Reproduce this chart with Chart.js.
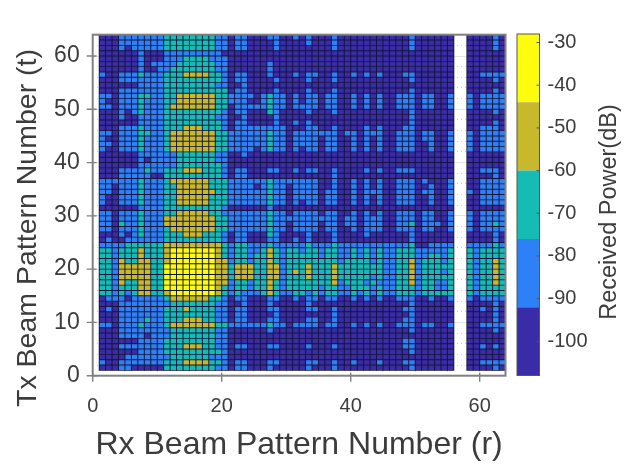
<!DOCTYPE html>
<html>
<head>
<meta charset="utf-8">
<title>Received power per beam pair</title>
<script src="https://cdn.jsdelivr.net/npm/chart.js@4/dist/chart.umd.min.js"></script>
<style>
  body { margin: 0; background: #fff; }
  canvas { position: absolute; left: 0; top: 0; }
</style>
</head>
<body>
<canvas id="heat" width="638" height="466"></canvas>
<canvas id="bar" width="638" height="466"></canvas>
<script>
// colour bands, weakest to strongest, in dB
const bandEdges = [-108, -92, -76, -60, -44, -28];
const bandColors = ['#3a2ba6', '#2e80f6', '#14bcb4', '#c8b92c', '#fcfc0c'];
const barTicks = [-100, -90, -80, -70, -60, -50, -40, -30];
const xTicks = [0, 20, 40, 60];
const yTicks = [0, 10, 20, 30, 40, 50, 60];
const xGridLines = [0, 5, 10, 15, 20, 25, 30, 35, 40, 45, 50, 55, 60];
const yGridLines = [0, 2, 4, 6, 8, 10, 12, 14, 16, 18, 20, 22, 24, 26, 28, 30, 32,
  34, 36, 38, 40, 42, 44, 46, 48, 50, 52, 54, 56, 58, 60, 62];

// band index per cell (1 = weakest, 0 = no data)
// first row is t=63, last is t=1; every row runs r=1..63
const powerRows = [
  '1112222222 3333333322 1221112211 2121112111 1111111121 1111100111 121',
  '1112222222 3333333322 1221111211 1121112111 1111111121 1111100111 121',
  '1112122222 3333333322 1221111211 1111112111 1111111121 1111100111 121',
  '1111112111 2222222221 1111111111 1111111111 1111111111 1111100111 111',
  '1111112111 2223333222 1111111111 1111111111 1111111111 1111100111 111',
  '1111112122 2233333322 1111112111 1111111111 1111111111 1111100111 111',
  '1111112112 2333333322 1111112111 1111111111 1111111111 1111100111 111',
  '2112223222 3334444332 1221112111 2122112112 1212111221 1111100112 222',
  '1112222222 3333333332 1221111211 1121112111 1111111121 1111100111 121',
  '1111112222 3333333322 1121111111 1111111111 1111111111 1111100111 111',
  '1112222222 3333333333 1221111211 1121112111 1111111121 1111100111 121',
  '2212223322 3344444433 2222123221 2122122112 1212112221 2211200212 222',
  '2112223222 3344444433 2221123221 2122122112 1212112221 2211200212 222',
  '2212223222 3444444433 1222223221 2222122112 1212112221 2211200212 222',
  '1112123222 3333333332 1221113211 1121112111 1111111121 1111100111 121',
  '1112112222 3333333322 1121111211 1111111111 1111111121 1111100111 111',
  '1111112222 3333333332 1221111211 2121111111 1111111121 1111100111 121',
  '1112223222 3334443332 1222222221 1122112111 1212111221 1111100112 221',
  '2212223322 3444444433 2222223221 2222222122 1222112221 2211200212 222',
  '2112223222 3444444433 2222223221 2222122112 1212112221 2211200212 222',
  '2212223222 3444444433 2222223221 2222122112 1212112221 1211200212 222',
  '2112223222 3444444433 2222123221 2122122112 1212112221 1211200212 222',
  '1111112222 2233333322 1121111111 1111111111 1111111111 1111100111 111',
  '1111112122 2233333322 1111111111 1111111111 1111111111 1111100111 111',
  '1111112222 2233333332 1111111111 1111111111 1111111111 1111100111 111',
  '1112222322 3334443332 1221112211 2122112111 1212112221 1111100112 221',
  '1112222211 3333333332 1221111111 1111112111 1111111111 1111100111 121',
  '2222223222 3444444333 2222223222 2222112112 1212112221 2111200112 222',
  '2212223222 3344444333 2222123221 2222112112 1212112221 1211200112 222',
  '2212223222 3344444433 2222223221 2222122112 1222112221 2211200212 222',
  '2112223222 3344444333 2222223221 2222122112 1212112221 1211200112 222',
  '2112223222 3344444333 2222223221 2122122112 1212112221 1211200112 222',
  '1111112222 3333333332 1111112111 1111111111 1111111111 1111100111 111',
  '2212223222 3344444332 2222223221 2222122112 1212112221 2211200212 222',
  '2212223222 4444444433 2222223222 2222222122 1222112221 2211200212 222',
  '2213223222 4444444433 2222223221 2222122122 1222112231 2221200212 232',
  '2212223222 3444444433 2222223221 2222122112 1222112221 2211200212 222',
  '1112123222 3334443332 1221113211 1121112111 1211111121 1111100111 121',
  '1211222222 3333333332 1221112211 2121112111 1111111121 1111100111 121',
  '2222333333 4444444443 2332223222 2232223222 2222222231 1222200222 232',
  '3323334333 4555555543 2332234323 3233233223 2323223332 2222300323 333',
  '3323334333 4555555543 2332334323 3333233223 2323223332 2332300323 333',
  '3324334433 4555555544 2332334323 3333333233 3323223342 3332300323 343',
  '3324444433 5555555544 3444334423 3343334333 3333223342 3333300323 343',
  '3324444433 5555555544 3444334423 4343334333 3333223342 3332300323 343',
  '3324444433 5555555544 3444334423 3343334333 3323223342 3333300323 343',
  '3324334433 5555555544 2332334323 3333334233 3232223342 3322300323 343',
  '3323334433 5555555543 2332334323 3333233223 3323223332 3322300323 333',
  '3323234433 4555555543 2322234322 3323233223 2323223332 3333300323 333',
  '1222122222 3444444332 1221112211 2122122112 1212112221 1211200212 222',
  '1112222222 2333333322 1121112111 1121111111 1111111121 1111100111 121',
  '1212222222 3334333322 1221112211 1122112111 1111111221 1111100112 121',
  '1112222222 3333333322 1221111211 1111112111 1111111121 1111100111 121',
  '1112222322 3334443322 1221112211 1122112111 1111111221 1111100111 121',
  '2212223222 3444444433 2222223221 2222122112 1212112221 2211200112 222',
  '1112222222 2333333322 1111112111 1111111111 1111111121 1111100111 121',
  '1112222122 2333333322 1111111111 1111111111 1111111111 1111100111 111',
  '1111112222 3333333322 1111111111 1111111111 1111111221 1111100111 111',
  '1112222222 3334443322 1221112211 1121112111 1111111221 1111100112 121',
  '1111112222 3333333332 1111111111 1111111111 1111111121 1111100111 111',
  '1111222222 2333333222 1111111111 1111111111 1111111111 1111100111 111',
  '2112222222 3334444332 1221112211 1122112112 1112111221 1111100112 222',
  '1112211111 3333333322 1221112111 1121112111 1111111121 1111100111 121'
];

const axisColor = '#808080';
const textColor = '#3c3c3c';
const fontFamily = '"Liberation Sans", Arial, sans-serif';

// one dataset per colour band, each cell a floating bar inside its t row
function cellsForBand(band) {
  const cells = [];
  powerRows.forEach((row, k) => {
    const t = powerRows.length - k;
    row.replace(/ /g, '').split('').forEach((c, i) => {
      if (Number(c) === band) cells.push({ x: i + 1.5, y: [t + 0.085, t + 0.915] });
    });
  });
  return cells;
}

// dark columns behind the cells, they show through as the mesh lines
function meshColumns() {
  const cols = [];
  powerRows[0].replace(/ /g, '').split('').forEach((c, i) => {
    if (c !== '0') cols.push({ x: i + 1.5, y: [1, powerRows.length + 1] });
  });
  return cols;
}

// crossing ticks and the box, MATLAB style
const frame = {
  id: 'frame',
  afterDatasetsDraw(chart) {
    const { ctx, chartArea: a, scales } = chart;
    ctx.save();
    ctx.strokeStyle = axisColor;
    ctx.lineWidth = 2;
    ctx.strokeRect(a.left, a.top, a.right - a.left, a.bottom - a.top);
    ctx.lineWidth = 1.4;
    ctx.beginPath();
    xTicks.forEach(v => {
      const px = scales.x.getPixelForValue(v);
      ctx.moveTo(px, a.bottom + 6);
      ctx.lineTo(px, a.bottom - 3);
    });
    yTicks.forEach(v => {
      const py = scales.y.getPixelForValue(v);
      ctx.moveTo(a.left - 6, py);
      ctx.lineTo(a.left + 4, py);
    });
    ctx.stroke();
    // the y title runs past the bottom of the axes, so it is placed by hand
    ctx.translate(28, 228);
    ctx.rotate(-Math.PI / 2);
    ctx.font = '28.5px ' + fontFamily;
    ctx.fillStyle = textColor;
    ctx.textAlign = 'center';
    ctx.textBaseline = 'middle';
    ctx.fillText('Tx Beam Pattern Number (t)', 0, 0);
    ctx.restore();
  }
};

const cellDatasets = bandColors.map((color, i) => ({
  label: bandEdges[i] + ' to ' + bandEdges[i + 1] + ' dB',
  data: cellsForBand(i + 1),
  backgroundColor: color,
  borderWidth: 0,
  inflateAmount: 0,
  grouped: false,
  barPercentage: 0.85,
  categoryPercentage: 1
}));

new Chart(document.getElementById('heat'), {
  type: 'bar',
  data: {
    // the first dataset is drawn last, so the mesh goes at the end of the list
    datasets: cellDatasets.concat([{
      label: 'mesh',
      data: meshColumns(),
      backgroundColor: '#14143a',
      borderWidth: 0,
      inflateAmount: 0.4,
      grouped: false,
      barPercentage: 1,
      categoryPercentage: 1
    }])
  },
  options: {
    responsive: false,
    animation: false,
    devicePixelRatio: 1,
    layout: { padding: { top: 34.7, right: 132.5, left: 0, bottom: 0 } },
    plugins: { legend: { display: false }, tooltip: { enabled: false } },
    scales: {
      x: {
        type: 'linear',
        offset: false,
        min: 0,
        max: 64,
        afterFit: s => { s.height = 90.3; },
        afterBuildTicks: s => { s.ticks = xGridLines.map(value => ({ value })); },
        grid: { offset: false, drawTicks: false, color: '#d4d4d4' },
        border: { color: axisColor, dash: [1, 3] },
        ticks: {
          autoSkip: false,
          maxRotation: 0,
          padding: 19,
          color: textColor,
          font: { family: fontFamily, size: 20 },
          callback: v => (xTicks.includes(v) ? v : '')
        },
        title: {
          display: true,
          text: 'Rx Beam Pattern Number (r)',
          color: textColor,
          padding: { top: 4, bottom: 2 },
          font: { family: fontFamily, size: 32 }
        }
      },
      y: {
        type: 'linear',
        min: 0,
        max: 64,
        afterFit: s => { s.width = 92.7; },
        afterBuildTicks: s => { s.ticks = yGridLines.map(value => ({ value })); },
        grid: {
          drawTicks: false,
          color: ctx => (ctx.tick && yTicks.includes(ctx.tick.value) ? '#e4e4e4' : '#cfcfcf')
        },
        border: {
          color: axisColor,
          dash: ctx => (ctx.tick && yTicks.includes(ctx.tick.value) ? [] : [1, 3])
        },
        ticks: {
          autoSkip: false,
          padding: 13,
          color: textColor,
          font: { family: fontFamily, size: 23 },
          callback: v => (yTicks.includes(v) ? v : '')
        }
      }
    }
  },
  plugins: [frame]
});

const barFrame = {
  id: 'barFrame',
  afterDatasetsDraw(chart) {
    const { ctx, chartArea: a, scales } = chart;
    ctx.save();
    ctx.strokeStyle = '#55555a';
    ctx.lineWidth = 1;
    ctx.strokeRect(a.left, a.top, a.right - a.left, a.bottom - a.top);
    ctx.beginPath();
    barTicks.forEach(v => {
      const py = scales.y.getPixelForValue(v);
      ctx.moveTo(a.right, py);
      ctx.lineTo(a.right - 3, py);
    });
    ctx.stroke();
    ctx.translate(610, 212);
    ctx.rotate(-Math.PI / 2);
    ctx.font = '23.5px ' + fontFamily;
    ctx.fillStyle = textColor;
    ctx.textAlign = 'center';
    ctx.textBaseline = 'middle';
    ctx.fillText('Received Power(dB)', 0, 0);
    ctx.restore();
  }
};

new Chart(document.getElementById('bar'), {
  type: 'bar',
  data: {
    labels: [''],
    datasets: bandColors.map((color, i) => ({
      data: [[bandEdges[i], bandEdges[i + 1]]],
      backgroundColor: color,
      borderWidth: 0,
      inflateAmount: 0,
      grouped: false,
      barPercentage: 1,
      categoryPercentage: 1
    }))
  },
  options: {
    responsive: false,
    animation: false,
    devicePixelRatio: 1,
    layout: { padding: { top: 34, right: 0, left: 517, bottom: 90.5 } },
    plugins: { legend: { display: false }, tooltip: { enabled: false } },
    scales: {
      x: { display: false },
      y: {
        position: 'right',
        min: -108,
        max: -28,
        afterFit: s => { s.width = 98.5; },
        afterBuildTicks: s => { s.ticks = barTicks.map(value => ({ value })); },
        grid: { display: false, drawTicks: false },
        border: { display: false },
        ticks: { padding: 8, color: textColor, font: { family: fontFamily, size: 20 } }
      }
    }
  },
  plugins: [barFrame]
});
</script>
</body>
</html>
